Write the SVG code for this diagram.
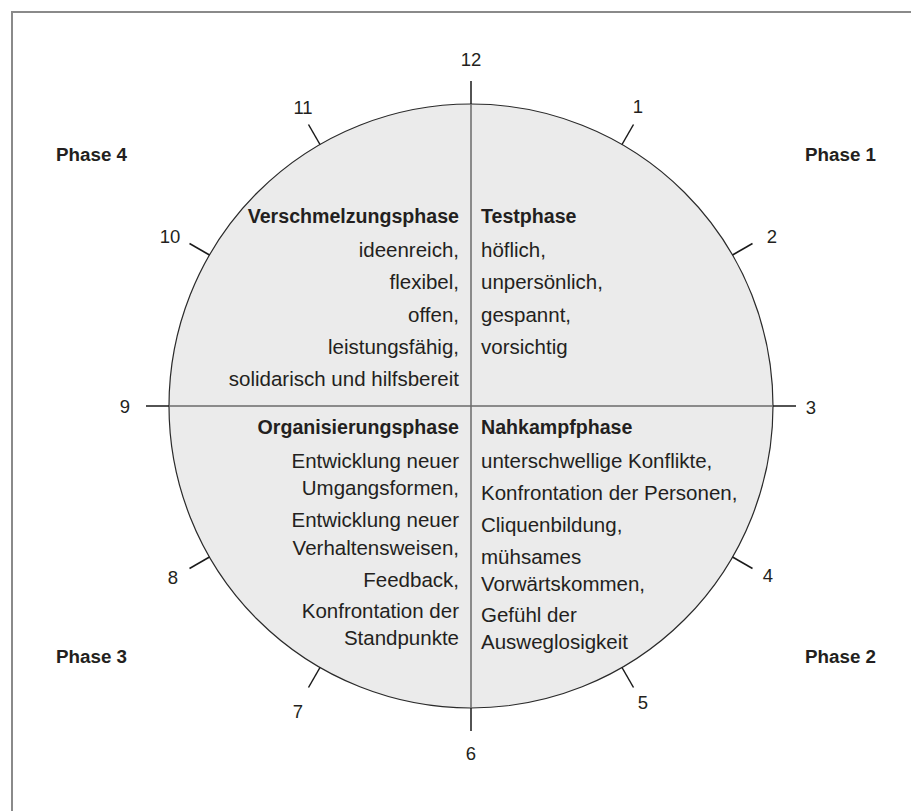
<svg xmlns="http://www.w3.org/2000/svg" width="911" height="811" viewBox="0 0 911 811">
  <style>
    text { font-family: "Liberation Sans", Arial, sans-serif; fill: #231f20; }
    .b { font-weight: bold; font-size: 19.6px; }
    .p { font-weight: bold; font-size: 18.8px; }
    .t { font-size: 20.5px; }
    .num { font-size: 18.5px; text-anchor: middle; }
    .e { text-anchor: end; }
    .axis { stroke: #6a6a6a; stroke-width: 1.5; fill: none; }
    .tick { stroke: #1a1a1a; stroke-width: 1.5; fill: none; }
  </style>
  <rect width="911" height="811" fill="#ffffff"/>
  <rect id="frame" x="12" y="12" width="1000" height="1000" fill="none" stroke="#8a8a8a" stroke-width="2"/>

  <g id="clock">
    <circle cx="471" cy="406" r="302" fill="#ebebeb" stroke="#2a2a2a" stroke-width="1.2"/>
  </g>

  <g id="connectors">
    <line class="axis" x1="471" y1="104" x2="471" y2="708"/>
    <line class="axis" x1="169" y1="406" x2="773" y2="406"/>
    <line class="tick" x1="471" y1="104" x2="471" y2="81"/>
    <line class="tick" x1="471" y1="708" x2="471" y2="731"/>
    <line class="tick" x1="169" y1="406" x2="146" y2="406"/>
    <line class="tick" x1="773" y1="406" x2="796" y2="406"/>
    <line class="tick" x1="622" y1="144.5" x2="633.5" y2="124.5"/>
    <line class="tick" x1="732.5" y1="255" x2="752.5" y2="243.5"/>
    <line class="tick" x1="732.5" y1="557" x2="752.5" y2="568.5"/>
    <line class="tick" x1="622" y1="667.5" x2="633.5" y2="687.5"/>
    <line class="tick" x1="320" y1="667.5" x2="308.5" y2="687.5"/>
    <line class="tick" x1="209.5" y1="557" x2="189.5" y2="568.5"/>
    <line class="tick" x1="209.5" y1="255" x2="189.5" y2="243.5"/>
    <line class="tick" x1="320" y1="144.5" x2="308.5" y2="124.5"/>
  </g>

  <g id="hours">
    <text class="num" x="471" y="66">12</text>
    <text class="num" x="638" y="113">1</text>
    <text class="num" x="772" y="243">2</text>
    <text class="num" x="811" y="414">3</text>
    <text class="num" x="768" y="582">4</text>
    <text class="num" x="643" y="709">5</text>
    <text class="num" x="471" y="760">6</text>
    <text class="num" x="298" y="718">7</text>
    <text class="num" x="173" y="584">8</text>
    <text class="num" x="125" y="413">9</text>
    <text class="num" x="170" y="243">10</text>
    <text class="num" x="303" y="114">11</text>
  </g>

  <g id="phase1">
    <text class="p" x="805" y="161">Phase 1</text>
  </g>
  <g id="phase2">
    <text class="p" x="805" y="663">Phase 2</text>
  </g>
  <g id="phase3">
    <text class="p" x="56" y="663">Phase 3</text>
  </g>
  <g id="phase4">
    <text class="p" x="56" y="161">Phase 4</text>
  </g>

  <g id="testphase">
    <text class="b" x="481" y="223">Testphase</text>
    <text class="t" x="481" y="257">höflich,</text>
    <text class="t" x="481" y="289">unpersönlich,</text>
    <text class="t" x="481" y="322">gespannt,</text>
    <text class="t" x="481" y="354">vorsichtig</text>
  </g>

  <g id="verschmelzungsphase">
    <text class="b e" x="459" y="223">Verschmelzungsphase</text>
    <text class="t e" x="459" y="257">ideenreich,</text>
    <text class="t e" x="459" y="289">flexibel,</text>
    <text class="t e" x="459" y="322">offen,</text>
    <text class="t e" x="459" y="354">leistungsfähig,</text>
    <text class="t e" x="459" y="386">solidarisch und hilfsbereit</text>
  </g>

  <g id="organisierungsphase">
    <text class="b e" x="459" y="434">Organisierungsphase</text>
    <text class="t e" x="459" y="468">Entwicklung neuer</text>
    <text class="t e" x="459" y="495">Umgangsformen,</text>
    <text class="t e" x="459" y="527">Entwicklung neuer</text>
    <text class="t e" x="459" y="555">Verhaltensweisen,</text>
    <text class="t e" x="459" y="587">Feedback,</text>
    <text class="t e" x="459" y="618">Konfrontation der</text>
    <text class="t e" x="459" y="645">Standpunkte</text>
  </g>

  <g id="nahkampfphase">
    <text class="b" x="481" y="434">Nahkampfphase</text>
    <text class="t" x="481" y="468">unterschwellige Konflikte,</text>
    <text class="t" x="481" y="500">Konfrontation der Personen,</text>
    <text class="t" x="481" y="532">Cliquenbildung,</text>
    <text class="t" x="481" y="564">mühsames</text>
    <text class="t" x="481" y="591">Vorwärtskommen,</text>
    <text class="t" x="481" y="622">Gefühl der</text>
    <text class="t" x="481" y="649">Ausweglosigkeit</text>
  </g>
</svg>
